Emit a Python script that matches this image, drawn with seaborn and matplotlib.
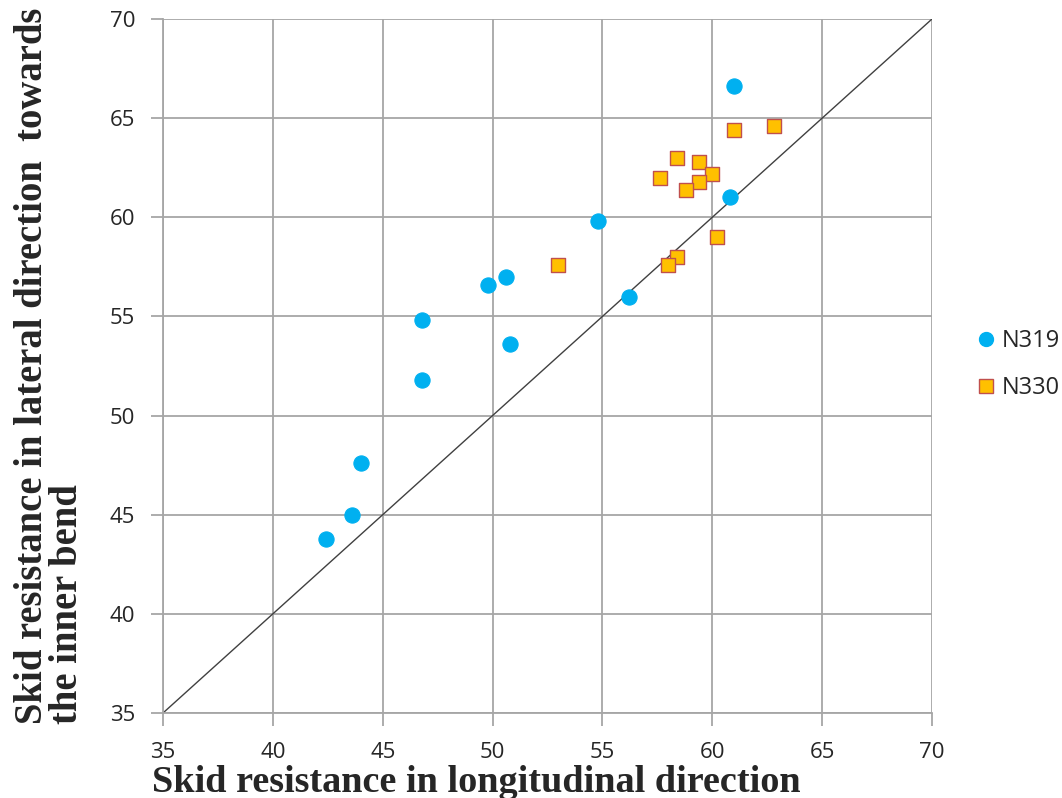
import numpy as np
import pandas as pd
import matplotlib
matplotlib.use("Agg")
import matplotlib.pyplot as plt
from matplotlib.lines import Line2D
import seaborn as sns

# Data
n319_x = [61.0, 60.8, 54.8, 56.2, 50.6, 49.8, 50.8, 46.8, 46.8, 44.0, 43.6, 42.4]
n319_y = [66.6, 61.0, 59.8, 56.0, 57.0, 56.6, 53.6, 54.8, 51.8, 47.6, 45.0, 43.8]
n330_x = [61.0, 62.8, 58.4, 59.4, 60.0, 57.6, 59.4, 58.8, 60.2, 58.4, 58.0, 53.0]
n330_y = [64.4, 64.6, 63.0, 62.8, 62.2, 62.0, 61.8, 61.4, 59.0, 58.0, 57.6, 57.6]
ticks = [35, 40, 45, 50, 55, 60, 65, 70]
series = ["N319", "N330"]

sns.set_theme(style="white")
plt.rcParams['font.family'] = ['Open Sans', 'DejaVu Sans']

fig = plt.figure(figsize=(10.62, 7.98), dpi=100)
ax = fig.add_axes([163/1062, 1 - 713/798, (932-163)/1062, (713-19)/798])

# diagonal line
ax.plot([ticks[0], ticks[-1]], [ticks[0], ticks[-1]], color="#404040", lw=1.0, zorder=2)

sns.scatterplot(x=n319_x, y=n319_y, marker="o", s=120, color="#00B0F0",
                edgecolor="#00B0F0", linewidth=0.8, ax=ax, zorder=3)
sns.scatterplot(x=n330_x, y=n330_y, marker="s", s=110, color="#FFC000",
                edgecolor="#C0504D", linewidth=1.0, ax=ax, zorder=3)

ax.set_xlim(35, 70)
ax.set_ylim(35, 70)
ax.set_xticks(ticks)
ax.set_yticks(ticks)
ax.grid(True, color="#A6A6A6", lw=1.3)
ax.set_axisbelow(True)
for s in ["top", "right"]:
    ax.spines[s].set_visible(False)
for s in ["left", "bottom"]:
    ax.spines[s].set_color("#A6A6A6")
    ax.spines[s].set_linewidth(1.3)
ax.tick_params(axis="both", which="major", length=9, width=1.3, color="#A6A6A6",
               labelsize=16, labelcolor="#262626", direction="out",
               bottom=True, left=True)
ax.tick_params(axis="x", pad=12)
ax.tick_params(axis="y", pad=11)
ax.set_xlabel("")
ax.set_ylabel("")

# legend
handles = [
    Line2D([], [], ls="", marker="o", ms=10, mfc="#00B0F0", mec="#00B0F0"),
    Line2D([], [], ls="", marker="s", ms=9.5, mfc="#FFC000", mec="#C0504D", mew=1.0),
]
leg = ax.legend(handles=handles, labels=series, loc="center left",
                bbox_to_anchor=(1.052, 0.502), frameon=False, fontsize=17,
                handletextpad=0.05, labelspacing=1.0, handlelength=1.2,
                borderaxespad=0, borderpad=0)
for t in leg.get_texts():
    t.set_color("#262626")

serif = ['Liberation Serif', 'DejaVu Serif']
fig.text(152/1062, 1 - 792/798, "Skid resistance in longitudinal direction",
         ha="left", va="baseline", fontsize=27.5, fontweight="bold", family=serif)
fig.text(50/1062, 1 - 724/798, "Skid resistance in lateral direction  towards\nthe inner bend",
         ha="center", va="bottom", rotation=90, fontsize=27.8, fontweight="bold",
         family=serif, linespacing=0.92, multialignment="left")

fig.savefig("out.png", dpi=100)
